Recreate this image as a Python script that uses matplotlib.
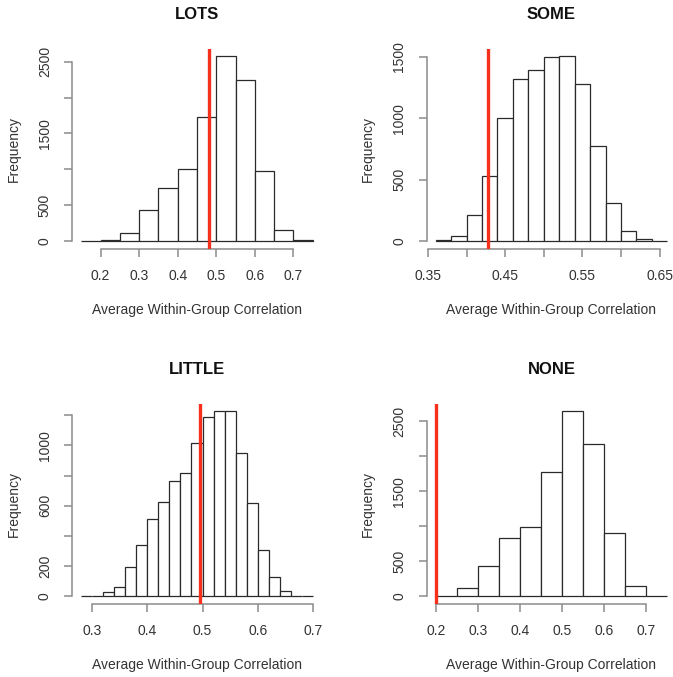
import numpy as np
import matplotlib
matplotlib.use("Agg")
import matplotlib.pyplot as plt

plt.rcParams['font.family'] = ['Liberation Sans', 'DejaVu Sans']

# ---------------- data ----------------
titles = ["LOTS", "SOME", "LITTLE", "NONE"]

lots_edges = [0.15, 0.20, 0.25, 0.30, 0.35, 0.40, 0.45, 0.50, 0.55, 0.60, 0.65, 0.70, 0.75]
lots_counts = [5, 20, 112, 429, 746, 998, 1735, 2580, 2245, 972, 154, 10]
lots_obs = 0.482
lots_xticks = [0.2, 0.3, 0.4, 0.5, 0.6, 0.7]
lots_xlabels = ["0.2", "0.3", "0.4", "0.5", "0.6", "0.7"]
lots_yticks = [0, 500, 1000, 1500, 2000, 2500]
lots_ylabels = ["0", "500", "", "1500", "", "2500"]

some_edges = [0.36, 0.38, 0.40, 0.42, 0.44, 0.46, 0.48, 0.50, 0.52, 0.54, 0.56, 0.58, 0.60, 0.62, 0.64, 0.66]
some_counts = [5, 44, 210, 529, 1001, 1323, 1394, 1500, 1508, 1282, 772, 311, 82, 16, 3]
some_obs = 0.428
some_xticks = [0.35, 0.40, 0.45, 0.50, 0.55, 0.60, 0.65]
some_xlabels = ["0.35", "", "0.45", "", "0.55", "", "0.65"]
some_yticks = [0, 500, 1000, 1500]
some_ylabels = ["0", "500", "1000", "1500"]

little_edges = [0.28, 0.30, 0.32, 0.34, 0.36, 0.38, 0.40, 0.42, 0.44, 0.46, 0.48, 0.50,
                0.52, 0.54, 0.56, 0.58, 0.60, 0.62, 0.64, 0.66, 0.68, 0.70]
little_counts = [2, 4, 27, 62, 195, 338, 513, 624, 763, 814, 1015, 1190, 1228, 1228,
                 951, 615, 308, 124, 33, 4, 2]
little_obs = 0.495
little_xticks = [0.3, 0.4, 0.5, 0.6, 0.7]
little_xlabels = ["0.3", "0.4", "0.5", "0.6", "0.7"]
little_yticks = [0, 200, 400, 600, 800, 1000, 1200]
little_ylabels = ["0", "200", "", "600", "", "1000", ""]

none_edges = [0.20, 0.25, 0.30, 0.35, 0.40, 0.45, 0.50, 0.55, 0.60, 0.65, 0.70, 0.75]
none_counts = [8, 119, 424, 829, 981, 1771, 2643, 2176, 905, 148, 4]
none_obs = 0.2
none_xticks = [0.2, 0.3, 0.4, 0.5, 0.6, 0.7]
none_xlabels = ["0.2", "0.3", "0.4", "0.5", "0.6", "0.7"]
none_yticks = [0, 500, 1000, 1500, 2000, 2500]
none_ylabels = ["0", "500", "", "1500", "", "2500"]

xlab = "Average Within-Group Correlation"
ylab = "Frequency"

panels = [
    (lots_edges, lots_counts, lots_obs, lots_xticks, lots_xlabels, lots_yticks, lots_ylabels),
    (some_edges, some_counts, some_obs, some_xticks, some_xlabels, some_yticks, some_ylabels),
    (little_edges, little_counts, little_obs, little_xticks, little_xlabels, little_yticks, little_ylabels),
    (none_edges, none_counts, none_obs, none_xticks, none_xlabels, none_yticks, none_ylabels),
]

# ---------------- figure ----------------
W, H = 673, 677
fig = plt.figure(figsize=(W / 100, H / 100), dpi=100)

lefts = [72.0, 426.5]
tops = [48.5, 403.6]
aw, ah = 250.0, 200.0

axis_gray = "#8c8c8c"
text_col = "#333333"

for i, (edges, counts, obs, xt, xl, yt, yl) in enumerate(panels):
    r, c = divmod(i, 2)
    l = lefts[c]
    t = tops[r]
    ax = fig.add_axes([l / W, 1 - (t + ah) / H, aw / W, ah / H])
    edges = np.asarray(edges)
    counts = np.asarray(counts)
    ax.bar(edges[:-1], counts, width=np.diff(edges), align="edge",
           facecolor="white", edgecolor="#2a2a2a", linewidth=0.9, zorder=2)
    rng = edges[-1] - edges[0]
    ax.set_xlim(edges[0] - 0.04 * rng, edges[-1] + 0.04 * rng)
    ymax = counts.max()
    ax.set_ylim(-0.04 * ymax, ymax * 1.04)
    ax.axvline(obs, color="#f5301c", linewidth=2.4, zorder=3)

    for s in ["top", "right"]:
        ax.spines[s].set_visible(False)
    for s in ["left", "bottom"]:
        ax.spines[s].set_color(axis_gray)
        ax.spines[s].set_linewidth(1.1)
    ax.spines["bottom"].set_bounds(xt[0], xt[-1])
    ax.spines["left"].set_bounds(yt[0], yt[-1])

    ax.set_xticks(xt)
    ax.set_xticklabels(xl)
    ax.set_yticks(yt)
    ax.set_yticklabels(yl, rotation=90, va="center")
    ax.tick_params(axis="both", length=5.5, width=1.1, color=axis_gray,
                   labelcolor=text_col, labelsize=10, pad=9)

    ax.set_title(titles[i], fontsize=12, fontweight="bold", pad=21, color="#111111")
    ax.set_xlabel(xlab, fontsize=10, color=text_col)
    ax.xaxis.set_label_coords(0.5, -61.5 / ah)
    ax.xaxis.label.set_va("center")
    ax.set_ylabel(ylab, fontsize=10, color=text_col)
    ax.yaxis.set_label_coords(-58.5 / aw, 0.5)
    ax.yaxis.label.set_va("center")

fig.savefig("out.png", dpi=100, facecolor="white")
